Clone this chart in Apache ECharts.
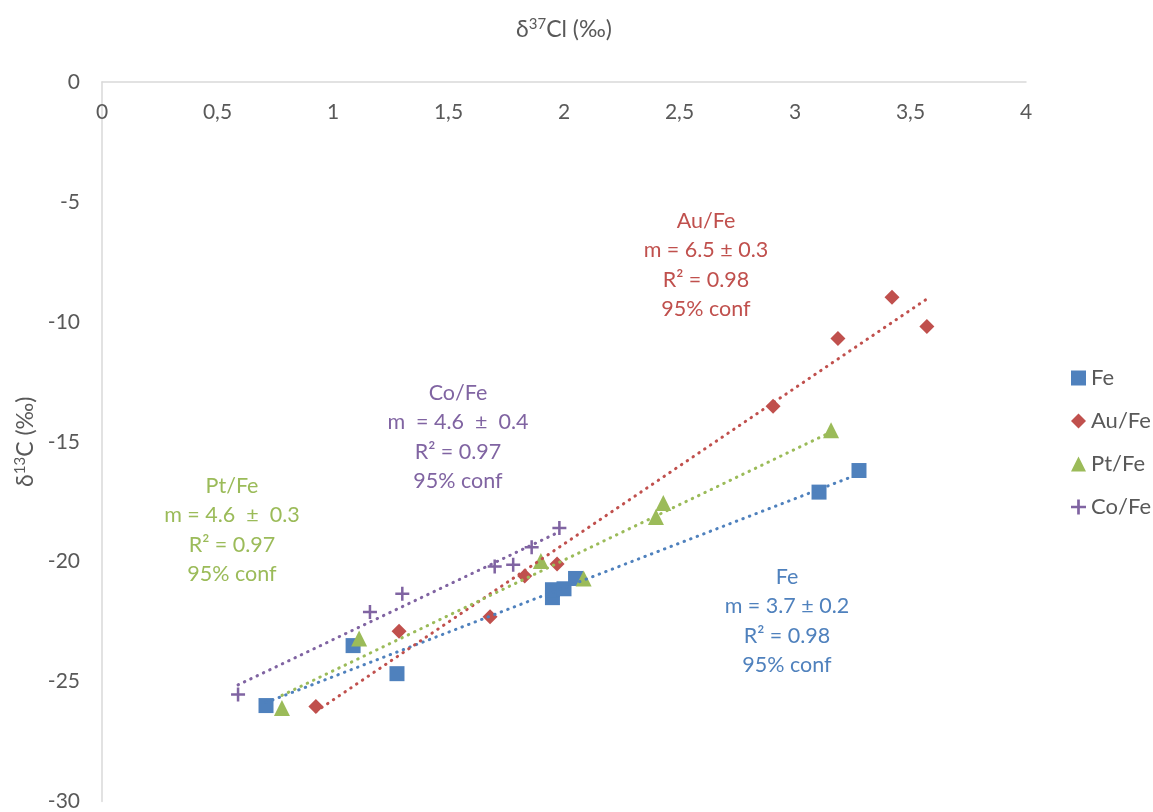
<!DOCTYPE html>
<html>
<head>
<meta charset="utf-8">
<script src="https://cdn.jsdelivr.net/npm/echarts@6/dist/echarts.min.js"></script>
<style>html,body{margin:0;padding:0;background:#fff}#c{width:1153px;height:812px}</style>
</head>
<body>
<div id="c"></div>
<script>
// δ37Cl (x) and δ13C (y) values
const feX = [0.71, 1.087, 1.277, 1.95, 1.95, 2.0, 2.05, 3.104, 3.277];
const feY = [-26.0, -23.5, -24.67, -21.5, -21.17, -21.13, -20.7, -17.1, -16.2];
const auX = [0.926, 1.286, 1.68, 1.83, 1.97, 2.905, 3.186, 3.42, 3.571];
const auY = [-26.04, -22.9, -22.3, -20.6, -20.1, -13.52, -10.69, -8.98, -10.19];
const ptX = [0.779, 1.113, 1.90, 2.085, 2.398, 2.43, 3.156];
const ptY = [-26.1, -23.2, -19.97, -20.7, -18.14, -17.55, -14.52];
const coX = [0.589, 1.16, 1.30, 1.70, 1.78, 1.86, 1.98];
const coY = [-25.54, -22.1, -21.34, -20.2, -20.13, -19.4, -18.6];

const xTicks = {min: 0, max: 4, interval: 0.5};
const yTicks = {min: -30, max: 0, interval: 5};

const seriesNames = ['Fe', 'Au/Fe', 'Pt/Fe', 'Co/Fe'];
const colors = ['#4F81BD', '#C0504D', '#9BBB59', '#8064A2'];
const annotations = [
  'Fe\nm = 3.7 ± 0.2\nR² = 0.98\n95% conf',
  'Au/Fe\nm = 6.5 ± 0.3\nR² = 0.98\n95% conf',
  'Pt/Fe\nm = 4.6  ±  0.3\nR² = 0.97\n95% conf',
  'Co/Fe\nm  = 4.6  ±  0.4\nR² = 0.97\n95% conf'
];

const plusPath = 'path://M4.1,0H5.9V4.1H10V5.9H5.9V10H4.1V5.9H0V4.1H4.1Z';
const symbols = ['rect', 'diamond', 'triangle', plusPath];
const symSizes = [15, 15, 16, 14];

const xs = [feX, auX, ptX, coX];
const ys = [feY, auY, ptY, coY];

function fit(x, y) {
  const n = x.length;
  let sx = 0, sy = 0, sxx = 0, sxy = 0;
  for (let i = 0; i < n; i++) { sx += x[i]; sy += y[i]; sxx += x[i]*x[i]; sxy += x[i]*y[i]; }
  const b = (n*sxy - sx*sy) / (n*sxx - sx*sx);
  const a = (sy - b*sx) / n;
  const x0 = Math.min(...x), x1 = Math.max(...x);
  return [[x0, a + b*x0], [x1, a + b*x1]];
}

const font = 'Lato';
const series = [];
seriesNames.forEach((nm, i) => {
  series.push({
    name: nm, type: 'scatter', symbol: symbols[i], symbolSize: symSizes[i],
    itemStyle: {color: colors[i], opacity: 1},
    data: xs[i].map((v, k) => [v, ys[i][k]]), z: 2
  });
});
seriesNames.forEach((nm, i) => {
  series.push({
    name: nm + ' trend', type: 'line', data: fit(xs[i], ys[i]), symbol: 'none',
    lineStyle: {color: colors[i], width: 3, type: [0.5, 6.5], cap: 'round'},
    silent: true, z: 3
  });
});

const annPos = [[787, 562], [706, 206], [232, 471], [458, 378]];
const nameRich = {
  b: {fontSize: 23, color: '#595959', fontFamily: font},
  s: {fontSize: 15, color: '#595959', fontFamily: font, verticalAlign: 'top', padding: [0, 0, 10, 0]}
};

const chart = echarts.init(document.getElementById('c'));
chart.setOption({
  animation: false,
  textStyle: {fontFamily: font},
  grid: {left: 102, top: 82, width: 924, height: 721},
  xAxis: {
    type: 'value', position: 'top', min: xTicks.min, max: xTicks.max, interval: xTicks.interval,
    axisLine: {onZero: false, lineStyle: {color: '#D9D9D9', width: 1.5}},
    axisTick: {show: false}, splitLine: {show: false},
    axisLabel: {inside: true, margin: 20, color: '#595959', fontSize: 21, fontFamily: font,
      formatter: v => String(v).replace('.', ',')},
    name: '{b|δ}{s|37}{b|Cl (‰)}', nameLocation: 'middle', nameGap: 40,
    nameTextStyle: {fontSize: 23, color: '#595959', fontFamily: font, rich: nameRich}
  },
  yAxis: {
    type: 'value', min: yTicks.min, max: yTicks.max, interval: yTicks.interval,
    axisLine: {show: true, lineStyle: {color: '#D9D9D9', width: 1.5}},
    axisTick: {show: false}, splitLine: {show: false},
    axisLabel: {margin: 22, color: '#595959', fontSize: 21, fontFamily: font},
    name: '{b|δ}{s|13}{b|C (‰)}', nameLocation: 'middle', nameGap: 62, nameRotate: 90,
    nameTextStyle: {fontSize: 23, color: '#595959', fontFamily: font, rich: nameRich}
  },
  legend: {
    data: seriesNames, orient: 'vertical', left: 1066, top: 362, itemGap: 21,
    itemWidth: 15, itemHeight: 15,
    textStyle: {color: '#595959', fontSize: 22, fontFamily: font}
  },
  graphic: annotations.map((t, i) => ({
    type: 'text', x: annPos[i][0], y: annPos[i][1],
    style: {text: t, fill: colors[i], font: '21.5px ' + font, textAlign: 'center', textVerticalAlign: 'top', lineHeight: 29.5}
  })),
  series: series
});
</script>
</body>
</html>
